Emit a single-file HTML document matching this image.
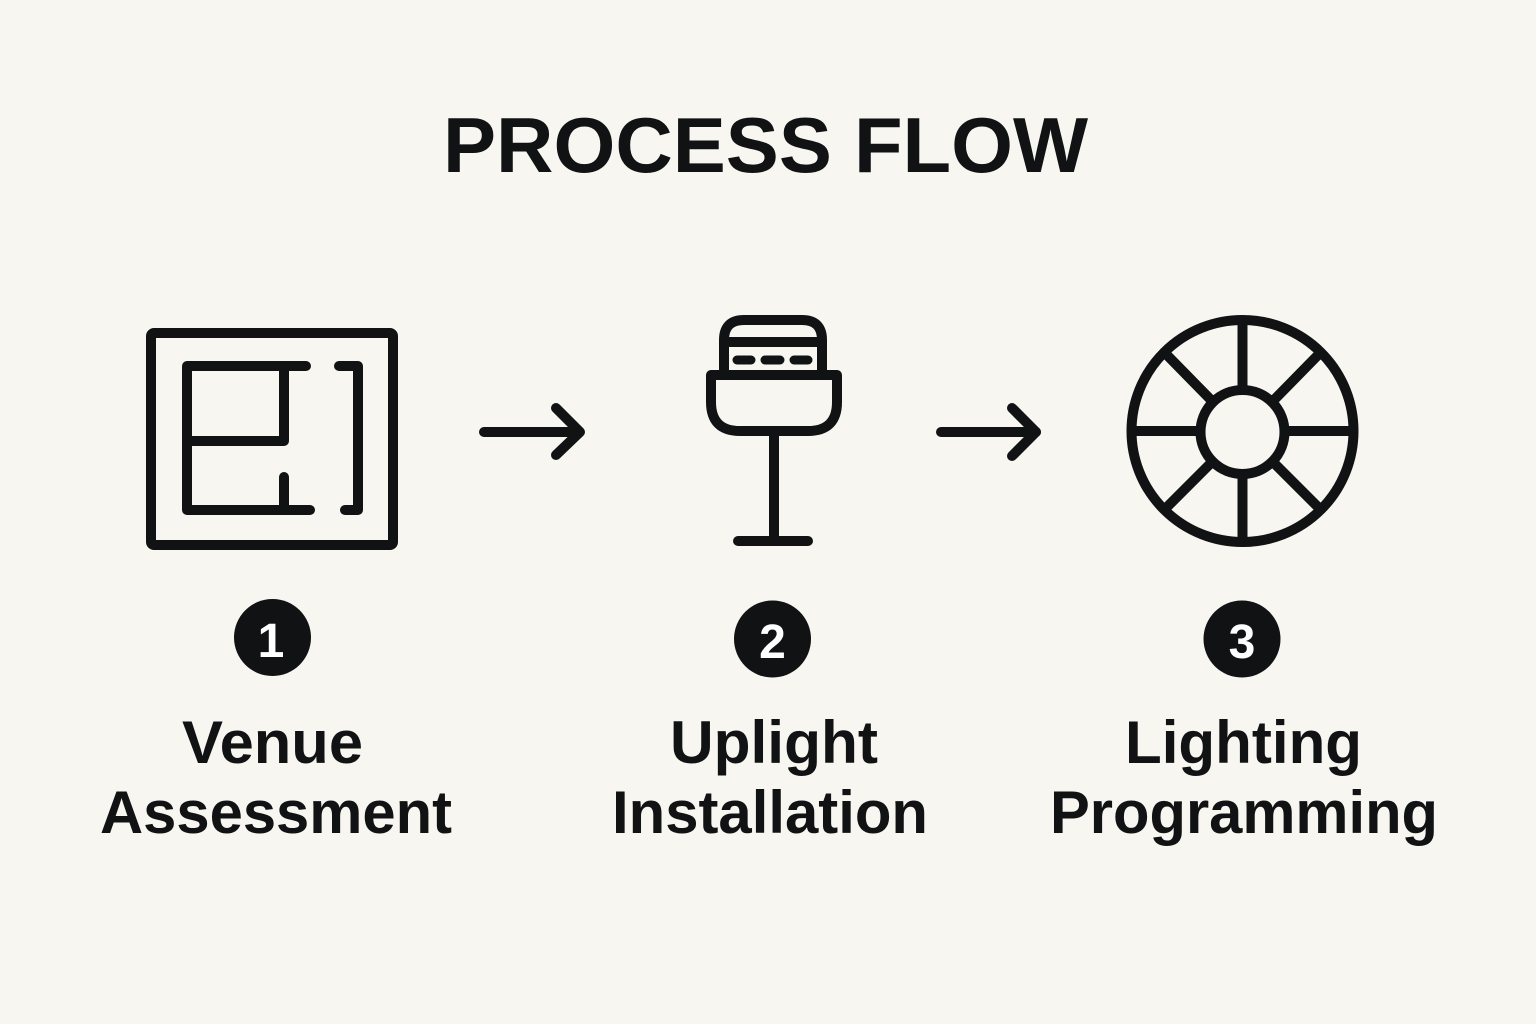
<!DOCTYPE html>
<html>
<head>
<meta charset="utf-8">
<style>
  html, body { margin: 0; padding: 0; background: #f8f6f1; }
  svg { display: block; }
  text { font-family: "Liberation Sans", "DejaVu Sans", sans-serif; font-weight: bold; }
</style>
</head>
<body>
<svg width="1536" height="1024" viewBox="0 0 1536 1024" xmlns="http://www.w3.org/2000/svg">
  <rect x="0" y="0" width="1536" height="1024" fill="#f8f6f1"/>

  <!-- Title -->
  <text x="443" y="172" font-size="78" fill="#111214" textLength="645" lengthAdjust="spacingAndGlyphs">PROCESS FLOW</text>

  <g fill="none" stroke="#111214" stroke-width="10" stroke-linecap="round" stroke-linejoin="round">
    <!-- Icon 1: floor plan -->
    <rect x="151" y="333" width="242" height="212" rx="3"/>
    <path d="M306 366 H187 V510 H310"/>
    <path d="M187 441 H284 V366"/>
    <path d="M284 477 V510"/>
    <path d="M339 366 H358 V510 H345"/>

    <!-- Arrow 1 -->
    <path d="M484 432 H579"/>
    <path d="M556 408 L580 432 L556 455"/>

    <!-- Icon 2: uplight -->
    <path d="M724 375 V340 Q724 320 744 320 H802 Q822 320 822 340 V375"/>
    <path d="M724 342 H822"/>
    <path d="M711 375 H837 V402 Q837 431 808 431 H740 Q711 431 711 402 Z"/>
    <path d="M774 431 V540"/>
    <path d="M738 541 H808" stroke-width="10"/>
    <path d="M737 360 H751 M765 360 H780 M794 360 H808" stroke-width="9"/>

    <!-- Arrow 2 -->
    <path d="M941 432 H1036"/>
    <path d="M1012 408 L1036 432 L1012 456"/>

    <!-- Icon 3: colour wheel -->
    <circle cx="1242.5" cy="431" r="111"/>
    <circle cx="1242.5" cy="432" r="42"/>
    <path d="M1242.5 320 V390 M1242.5 474 V542 M1131.5 431 H1200.5 M1284.5 431 H1353.5" stroke-linecap="butt"/>
    <path d="M1164 352 L1213 402 M1272 461 L1321 510 M1321 352 L1272 402 M1213 461 L1164 510" stroke-linecap="butt"/>
  </g>

  <!-- Badges -->
  <circle cx="272.5" cy="637.5" r="38.5" fill="#111214"/>
  <text x="271" y="657" font-size="48" fill="#ffffff" text-anchor="middle">1</text>
  <circle cx="772.5" cy="639" r="38.5" fill="#111214"/>
  <text x="772.5" y="658" font-size="48" fill="#ffffff" text-anchor="middle">2</text>
  <circle cx="1242" cy="639" r="38.5" fill="#111214"/>
  <text x="1242" y="658" font-size="48" fill="#ffffff" text-anchor="middle">3</text>

  <!-- Labels -->
  <g fill="#111214" font-size="60">
    <text x="182" y="763" textLength="181" lengthAdjust="spacingAndGlyphs">Venue</text>
    <text x="100" y="833" textLength="352" lengthAdjust="spacingAndGlyphs">Assessment</text>
    <text x="670" y="763" textLength="208" lengthAdjust="spacingAndGlyphs">Uplight</text>
    <text x="612" y="833" textLength="316" lengthAdjust="spacingAndGlyphs">Installation</text>
    <text x="1125" y="763" textLength="237" lengthAdjust="spacingAndGlyphs">Lighting</text>
    <text x="1050" y="833" textLength="388" lengthAdjust="spacingAndGlyphs">Programming</text>
  </g>
</svg>
</body>
</html>
